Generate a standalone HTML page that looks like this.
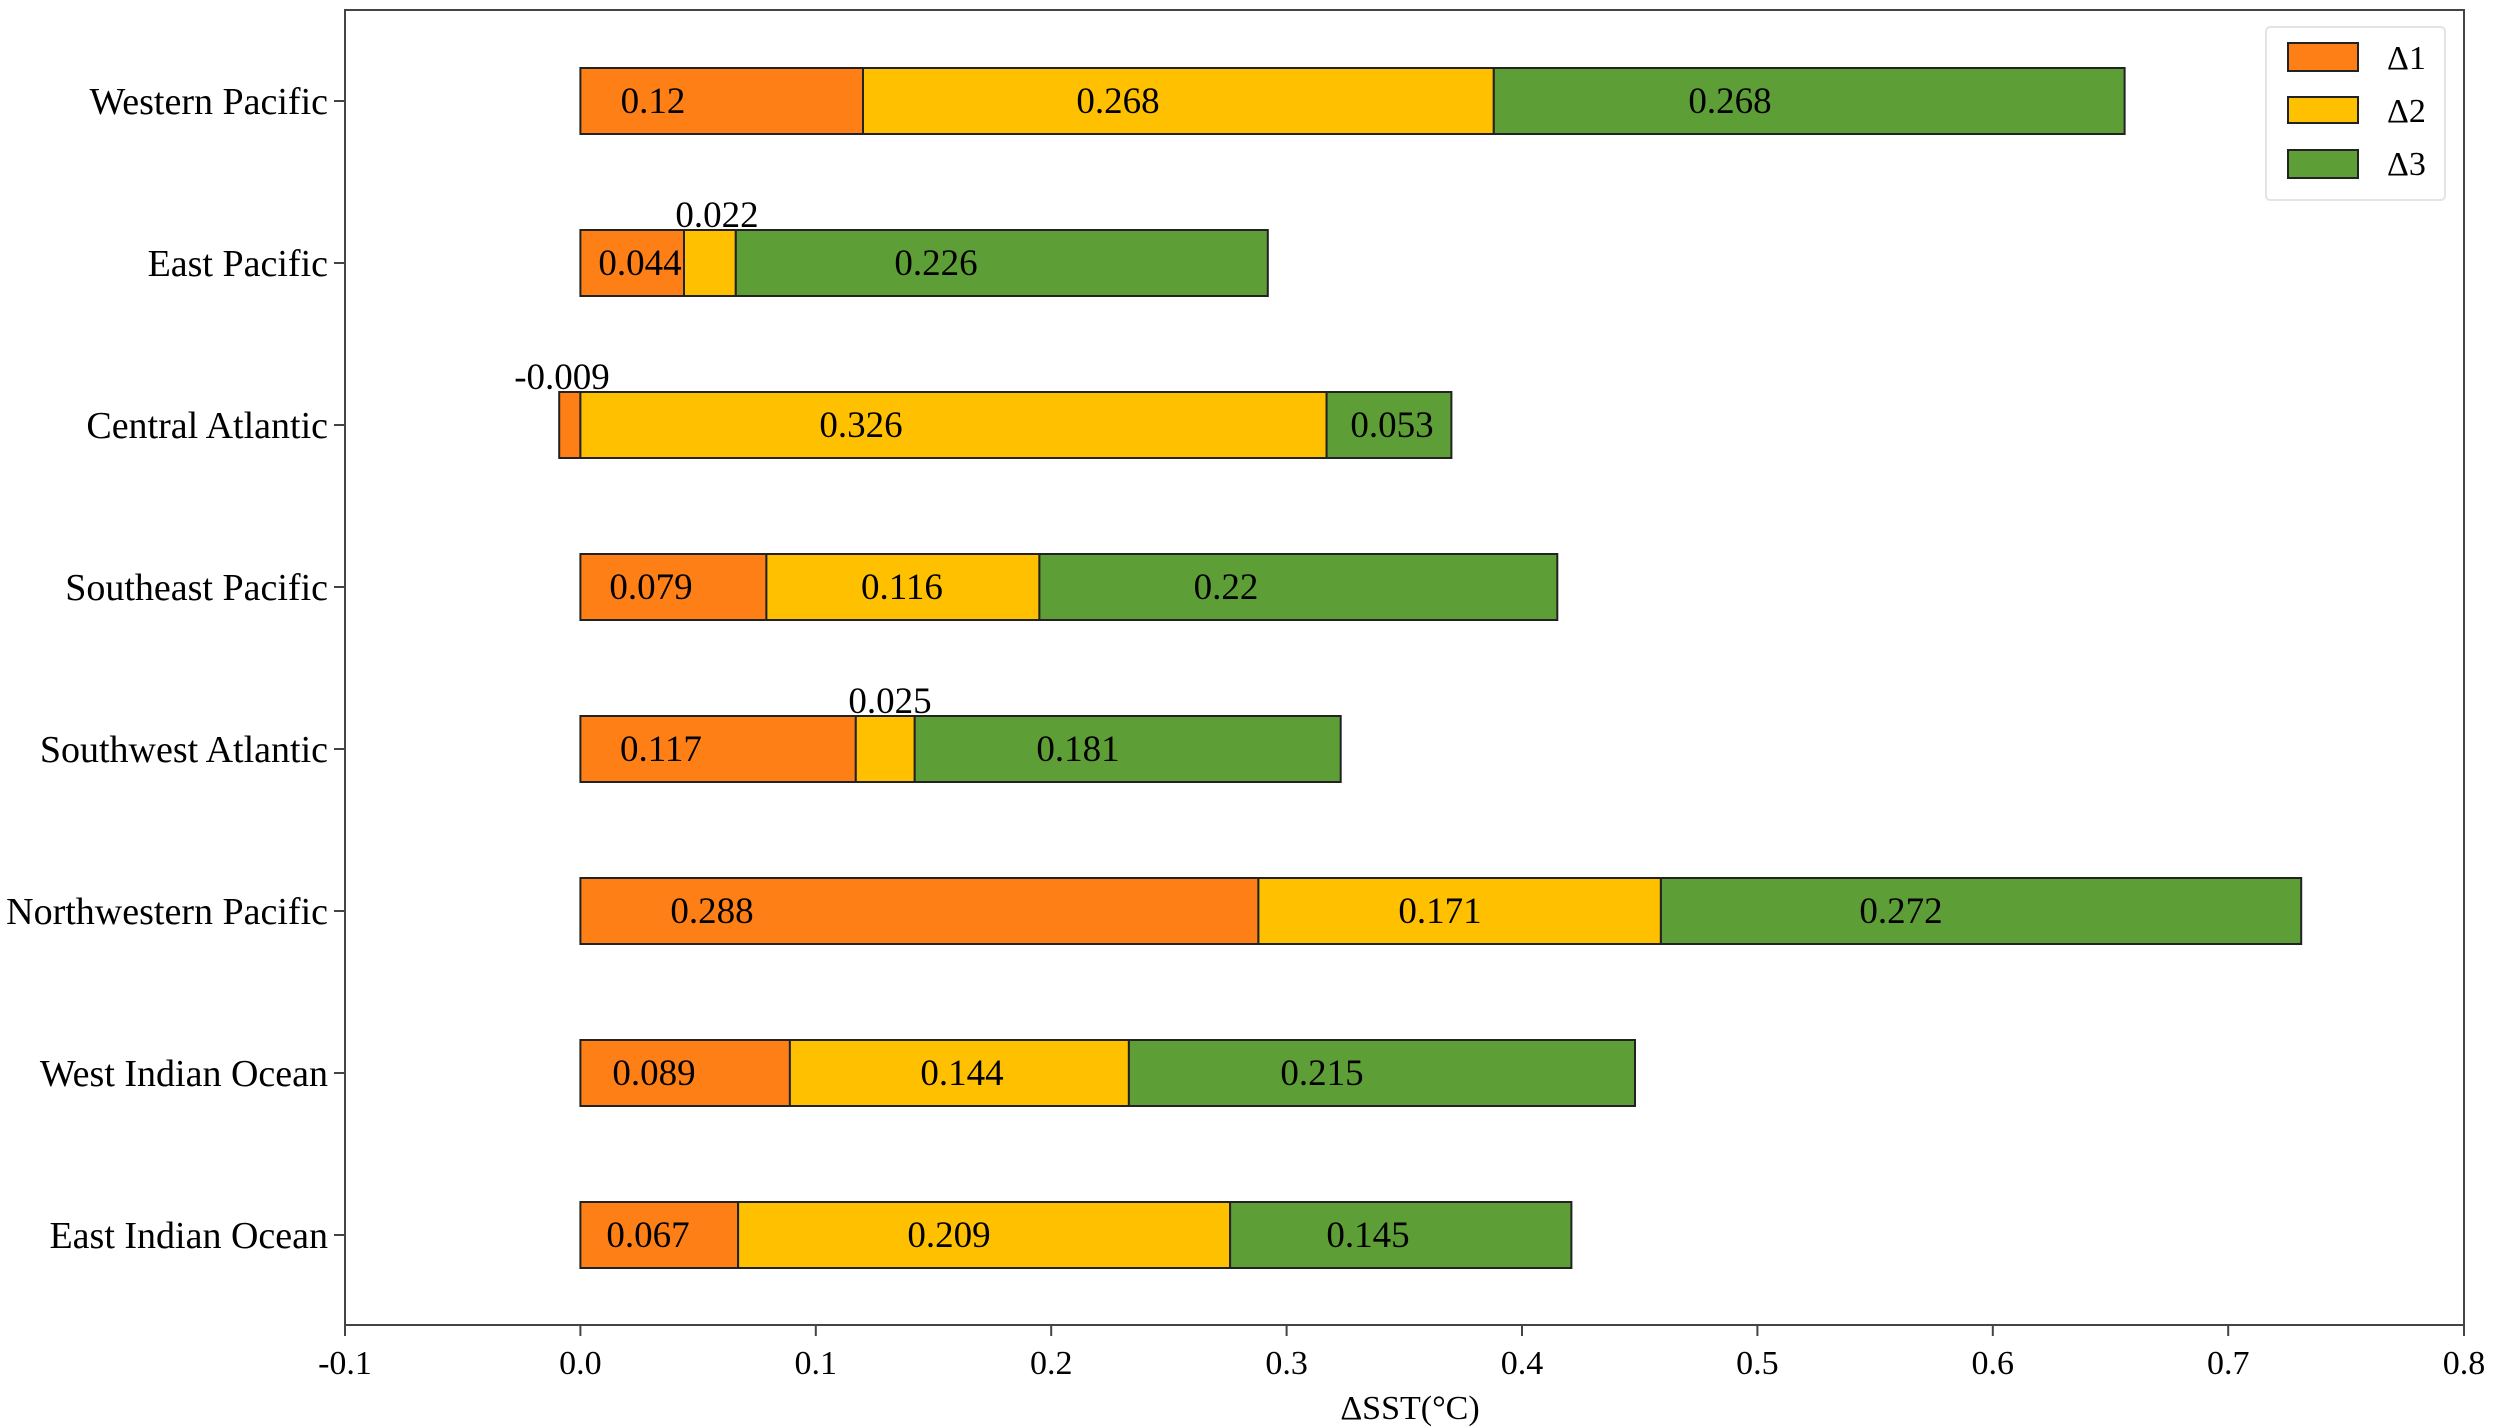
<!DOCTYPE html>
<html><head><meta charset="utf-8"><style>html,body{margin:0;padding:0;background:#fff}svg{display:block}</style></head>
<body>
<svg width="2500" height="1428" xmlns="http://www.w3.org/2000/svg" font-family="Liberation Serif, serif" font-size="37" fill="#000">
<rect x="345" y="10" width="2119" height="1315" fill="none" stroke="#444" stroke-width="2"/>
<g stroke="#222" stroke-width="2">
<rect x="580.4" y="68" width="282.6" height="66" fill="#FF7F17"/>
<rect x="863" y="68" width="630.8" height="66" fill="#FFC000"/>
<rect x="1493.8" y="68" width="630.8" height="66" fill="#5E9E36"/>
<rect x="580.4" y="230" width="103.6" height="66" fill="#FF7F17"/>
<rect x="684" y="230" width="51.8" height="66" fill="#FFC000"/>
<rect x="735.8" y="230" width="532" height="66" fill="#5E9E36"/>
<rect x="559.2" y="392" width="21.2" height="66" fill="#FF7F17"/>
<rect x="580.4" y="392" width="746.2" height="66" fill="#FFC000"/>
<rect x="1326.6" y="392" width="124.8" height="66" fill="#5E9E36"/>
<rect x="580.4" y="554" width="186" height="66" fill="#FF7F17"/>
<rect x="766.4" y="554" width="273" height="66" fill="#FFC000"/>
<rect x="1039.4" y="554" width="517.9" height="66" fill="#5E9E36"/>
<rect x="580.4" y="716" width="275.4" height="66" fill="#FF7F17"/>
<rect x="855.8" y="716" width="58.9" height="66" fill="#FFC000"/>
<rect x="914.7" y="716" width="426" height="66" fill="#5E9E36"/>
<rect x="580.4" y="878" width="678" height="66" fill="#FF7F17"/>
<rect x="1258.4" y="878" width="402.5" height="66" fill="#FFC000"/>
<rect x="1660.9" y="878" width="640.3" height="66" fill="#5E9E36"/>
<rect x="580.4" y="1040" width="209.5" height="66" fill="#FF7F17"/>
<rect x="789.9" y="1040" width="339" height="66" fill="#FFC000"/>
<rect x="1128.9" y="1040" width="506.1" height="66" fill="#5E9E36"/>
<rect x="580.4" y="1202" width="157.7" height="66" fill="#FF7F17"/>
<rect x="738.1" y="1202" width="492" height="66" fill="#FFC000"/>
<rect x="1230.1" y="1202" width="341.3" height="66" fill="#5E9E36"/>
</g>
<g text-anchor="middle">
<text x="653" y="113">0.12</text><text x="1118" y="113">0.268</text><text x="1730" y="113">0.268</text>
<text x="640" y="275">0.044</text><text x="717" y="227">0.022</text><text x="936" y="275">0.226</text>
<text x="562" y="389">-0.009</text><text x="861" y="437">0.326</text><text x="1392" y="437">0.053</text>
<text x="651" y="599">0.079</text><text x="902" y="599">0.116</text><text x="1226" y="599">0.22</text>
<text x="661" y="761">0.117</text><text x="890" y="713">0.025</text><text x="1078" y="761">0.181</text>
<text x="712" y="923">0.288</text><text x="1440" y="923">0.171</text><text x="1901" y="923">0.272</text>
<text x="654" y="1085">0.089</text><text x="962" y="1085">0.144</text><text x="1322" y="1085">0.215</text>
<text x="648" y="1247">0.067</text><text x="949" y="1247">0.209</text><text x="1368" y="1247">0.145</text>
</g>
<g text-anchor="end" font-size="38">
<text x="328" y="114">Western Pacific</text>
<text x="328" y="276">East Pacific</text>
<text x="328" y="438">Central Atlantic</text>
<text x="328" y="600">Southeast Pacific</text>
<text x="328" y="762">Southwest Atlantic</text>
<text x="328" y="924">Northwestern Pacific</text>
<text x="328" y="1086">West Indian Ocean</text>
<text x="328" y="1248">East Indian Ocean</text>
</g>
<g stroke="#444" stroke-width="2">
<line x1="334" y1="101" x2="345" y2="101"/><line x1="334" y1="263" x2="345" y2="263"/>
<line x1="334" y1="425" x2="345" y2="425"/><line x1="334" y1="587" x2="345" y2="587"/>
<line x1="334" y1="749" x2="345" y2="749"/><line x1="334" y1="911" x2="345" y2="911"/>
<line x1="334" y1="1073" x2="345" y2="1073"/><line x1="334" y1="1235" x2="345" y2="1235"/>
<line x1="345" y1="1325" x2="345" y2="1336"/><line x1="580.4" y1="1325" x2="580.4" y2="1336"/>
<line x1="815.8" y1="1325" x2="815.8" y2="1336"/><line x1="1051.2" y1="1325" x2="1051.2" y2="1336"/>
<line x1="1286.6" y1="1325" x2="1286.6" y2="1336"/><line x1="1522" y1="1325" x2="1522" y2="1336"/>
<line x1="1757.4" y1="1325" x2="1757.4" y2="1336"/><line x1="1992.8" y1="1325" x2="1992.8" y2="1336"/>
<line x1="2228.2" y1="1325" x2="2228.2" y2="1336"/><line x1="2464" y1="1325" x2="2464" y2="1336"/>
</g>
<g text-anchor="middle" font-size="34">
<text x="345" y="1374">-0.1</text><text x="580.4" y="1374">0.0</text><text x="815.8" y="1374">0.1</text>
<text x="1051.2" y="1374">0.2</text><text x="1286.6" y="1374">0.3</text><text x="1522" y="1374">0.4</text>
<text x="1757.4" y="1374">0.5</text><text x="1992.8" y="1374">0.6</text><text x="2228.2" y="1374">0.7</text>
<text x="2464" y="1374">0.8</text>
<text x="1410" y="1419">ΔSST(°C)</text>
</g>
<rect x="2266" y="27" width="179" height="173" rx="4" fill="#fff" stroke="#e4e4e4" stroke-width="2"/>
<g stroke="#222" stroke-width="2">
<rect x="2288" y="43" width="70" height="28" fill="#FF7F17"/>
<rect x="2288" y="97" width="70" height="26" fill="#FFC000"/>
<rect x="2288" y="150" width="70" height="28" fill="#5E9E36"/>
</g>
<g font-size="34">
<text x="2387" y="69">Δ1</text><text x="2387" y="122">Δ2</text><text x="2387" y="175">Δ3</text>
</g>
</svg>
</body></html>
